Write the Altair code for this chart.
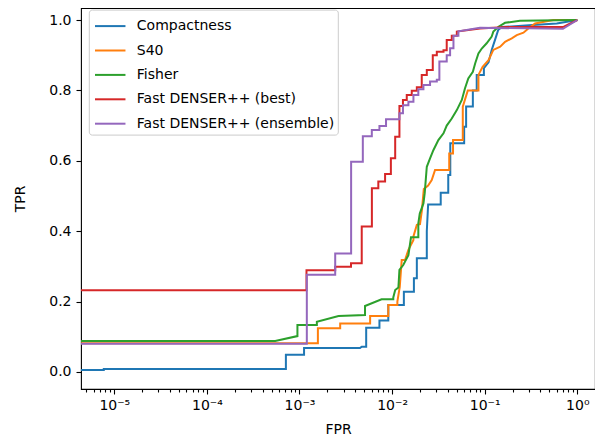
import altair as alt
import pandas as pd

series = ["Compactness", "S40", "Fisher", "Fast DENSER++ (best)", "Fast DENSER++ (ensemble)"]
colors = ["#1f77b4", "#ff7f0e", "#2ca02c", "#d62728", "#9467bd"]

XMIN, XMAX = 4.37e-6, 1.553
YMIN, YMAX = -0.0483, 1.0341

compactness = [
    (XMIN, 0.0057), (7.7e-6, 0.0057), (7.7e-6, 0.0085), (7.13e-4, 0.0085), (7.13e-4, 0.049),
    (1.12e-3, 0.049), (1.12e-3, 0.068), (4.5e-3, 0.068), (4.7e-3, 0.072), (5.25e-3, 0.072),
    (5.25e-3, 0.126), (7.3e-3, 0.126), (7.3e-3, 0.146), (9.1e-3, 0.146), (9.1e-3, 0.19),
    (1.34e-2, 0.19), (1.34e-2, 0.228), (1.72e-2, 0.228), (1.72e-2, 0.266), (1.85e-2, 0.266),
    (1.85e-2, 0.323), (2.37e-2, 0.323), (2.37e-2, 0.40), (2.45e-2, 0.476), (3.35e-2, 0.476),
    (3.35e-2, 0.509), (4.04e-2, 0.509), (4.04e-2, 0.56), (4.25e-2, 0.56), (4.25e-2, 0.65),
    (6.0e-2, 0.65), (6.0e-2, 0.697), (6.3e-2, 0.697), (6.3e-2, 0.754), (7.45e-2, 0.754),
    (7.45e-2, 0.80), (8.2e-2, 0.80), (8.2e-2, 0.844), (9.8e-2, 0.844), (9.8e-2, 0.863),
    (0.11, 0.88), (0.119, 0.915), (0.129, 0.943), (0.14, 0.972), (0.153, 0.98),
    (0.3, 0.985), (0.6, 0.99), (1.0, 1.0),
]

s40 = [
    (XMIN, 0.082), (1.58e-3, 0.082), (1.58e-3, 0.124), (2.75e-3, 0.124), (2.75e-3, 0.138),
    (5.79e-3, 0.138), (5.79e-3, 0.159), (9.1e-3, 0.159), (9.1e-3, 0.19), (1.14e-2, 0.19),
    (1.14e-2, 0.2), (1.21e-2, 0.242), (1.27e-2, 0.318), (1.38e-2, 0.318), (1.5e-2, 0.347),
    (1.7e-2, 0.375), (1.7e-2, 0.385), (1.85e-2, 0.418), (2.0e-2, 0.42), (2.1e-2, 0.46),
    (2.2e-2, 0.52), (2.45e-2, 0.53), (2.68e-2, 0.545), (2.91e-2, 0.574), (4.14e-2, 0.574),
    (4.14e-2, 0.621), (4.55e-2, 0.621), (4.55e-2, 0.659), (5.8e-2, 0.659), (5.8e-2, 0.754),
    (6.57e-2, 0.80), (8.56e-2, 0.80), (8.56e-2, 0.844), (9.5e-2, 0.867), (0.11, 0.886),
    (0.124, 0.915), (0.147, 0.924), (0.166, 0.938), (0.196, 0.948), (0.222, 0.957),
    (0.262, 0.964), (0.296, 0.976), (0.35, 0.99), (0.55, 1.0), (1.0, 1.0),
]

fisher = [
    (XMIN, 0.088), (5.47e-4, 0.088), (9.5e-4, 0.102), (9.5e-4, 0.1335), (1.54e-3, 0.1335),
    (1.54e-3, 0.143), (2.64e-3, 0.159), (5.1e-3, 0.162), (5.1e-3, 0.1875), (7.7e-3, 0.2064),
    (1.03e-2, 0.2064), (1.03e-2, 0.212), (1.08e-2, 0.233), (1.17e-2, 0.24), (1.2e-2, 0.29),
    (1.32e-2, 0.304), (1.5e-2, 0.332), (1.6e-2, 0.3826), (1.92e-2, 0.3826), (1.92e-2, 0.4224),
    (1.99e-2, 0.45), (2.18e-2, 0.479), (2.25e-2, 0.508), (2.37e-2, 0.583), (2.57e-2, 0.607),
    (2.79e-2, 0.63), (3.16e-2, 0.659), (3.59e-2, 0.678), (3.89e-2, 0.70), (4.41e-2, 0.72),
    (5.0e-2, 0.744), (5.66e-2, 0.773), (6.13e-2, 0.806), (6.65e-2, 0.834), (7.45e-2, 0.853),
    (7.9e-2, 0.877), (8.56e-2, 0.905), (9.3e-2, 0.919), (0.105, 0.934), (0.119, 0.953),
    (0.124, 0.967), (0.141, 0.981), (0.166, 0.992), (0.24, 0.998), (1.0, 1.0),
]

fd_best = [
    (XMIN, 0.232), (1.19e-3, 0.232), (1.19e-3, 0.289), (2.43e-3, 0.289), (2.43e-3, 0.299),
    (3.6e-3, 0.299), (3.6e-3, 0.309), (4.7e-3, 0.309), (4.7e-3, 0.413), (6.05e-3, 0.413),
    (6.05e-3, 0.522), (7.1e-3, 0.522), (7.1e-3, 0.541), (8.4e-3, 0.541), (8.4e-3, 0.5625),
    (9.7e-3, 0.5625), (9.7e-3, 0.607), (1.08e-2, 0.607), (1.08e-2, 0.668), (1.2e-2, 0.668),
    (1.2e-2, 0.756), (1.31e-2, 0.756), (1.31e-2, 0.773), (1.44e-2, 0.773), (1.44e-2, 0.787),
    (1.63e-2, 0.787), (1.63e-2, 0.799), (1.85e-2, 0.799), (1.85e-2, 0.809), (2.09e-2, 0.809),
    (2.09e-2, 0.844), (2.37e-2, 0.844), (2.37e-2, 0.858), (2.75e-2, 0.858), (2.75e-2, 0.90),
    (3.04e-2, 0.90), (3.04e-2, 0.91), (3.59e-2, 0.91), (3.59e-2, 0.914), (3.89e-2, 0.914),
    (3.89e-2, 0.943), (4.41e-2, 0.943), (4.41e-2, 0.955), (5.0e-2, 0.955), (5.0e-2, 0.967),
    (0.089, 0.976), (0.173, 0.98), (0.7, 0.98), (1.0, 1.0),
]

fd_ensemble = [
    (XMIN, 0.08), (1.2e-3, 0.08), (1.2e-3, 0.276), (2.43e-3, 0.276), (2.43e-3, 0.337),
    (3.61e-3, 0.337), (3.61e-3, 0.597), (4.83e-3, 0.597), (4.83e-3, 0.67), (6.04e-3, 0.67),
    (6.04e-3, 0.6875), (7.3e-3, 0.6875), (7.3e-3, 0.699), (8.6e-3, 0.699), (8.6e-3, 0.718),
    (1.2e-2, 0.718), (1.2e-2, 0.735), (1.31e-2, 0.735), (1.31e-2, 0.758), (1.5e-2, 0.758),
    (1.5e-2, 0.768), (1.7e-2, 0.768), (1.7e-2, 0.787), (1.92e-2, 0.787), (1.92e-2, 0.803),
    (2.18e-2, 0.803), (2.18e-2, 0.815), (2.57e-2, 0.815), (2.57e-2, 0.825), (3.04e-2, 0.825),
    (3.04e-2, 0.83), (3.24e-2, 0.83), (3.24e-2, 0.882), (3.89e-2, 0.882), (3.89e-2, 0.90),
    (4.23e-2, 0.90), (4.23e-2, 0.92), (4.6e-2, 0.92), (4.6e-2, 0.955), (5.2e-2, 0.955),
    (5.2e-2, 0.968), (0.089, 0.978), (0.7, 0.975), (1.0, 1.0),
]

curves = [compactness, s40, fisher, fd_best, fd_ensemble]

major_ticks = [1e-5, 1e-4, 1e-3, 1e-2, 1e-1, 1.0]
sup = {1e-5: "10⁻⁵", 1e-4: "10⁻⁴", 1e-3: "10⁻³", 1e-2: "10⁻²", 1e-1: "10⁻¹", 1.0: "10⁰"}
minor_mult = [2, 3, 4, 5, 6, 7, 8, 9]
minor_ticks = [m * 10.0 ** e for e in range(-6, 1) for m in minor_mult if XMIN <= m * 10.0 ** e <= XMAX]
all_ticks = sorted(major_ticks + minor_ticks)

rows = []
for name, pts in zip(series, curves):
    for i, (x, y) in enumerate(pts):
        rows.append({"series": name, "fpr": x, "tpr": y, "i": i})
df = pd.DataFrame(rows)

label_expr = ""
for v in major_ticks:
    label_expr += f"abs(datum.value - {v!r}) < {v * 1e-6!r} ? '{sup[v]}' : "
label_expr += "''"
major_test = " || ".join(f"abs(datum.value - {v!r}) < {v * 1e-6!r}" for v in major_ticks)

FONT = "DejaVu Sans"

chart = alt.Chart(df).mark_line(strokeWidth=2, clip=True).encode(
    x=alt.X("fpr:Q",
            scale=alt.Scale(type="log", domain=[XMIN, XMAX], nice=False),
            axis=alt.Axis(title="FPR", values=all_ticks, labelExpr=label_expr,
                          tickSize={"condition": {"test": major_test, "value": 5}, "value": 3},
                          labelPadding=4, titlePadding=10, grid=False, domain=False)),
    y=alt.Y("tpr:Q",
            scale=alt.Scale(domain=[YMIN, YMAX], nice=False, zero=False),
            axis=alt.Axis(title="TPR", values=[0, 0.2, 0.4, 0.6, 0.8, 1.0], format=".1f",
                          tickSize=5, labelPadding=5, titlePadding=21, grid=False, domain=False)),
    color=alt.Color("series:N", scale=alt.Scale(domain=series, range=colors),
                    legend=alt.Legend(title=None, orient="none", legendX=7.8, legendY=1.6,
                                      symbolType="M-0.84,0L1.64,0", symbolSize=605,
                                      symbolStrokeWidth=2, labelOffset=18, rowPadding=3.4,
                                      padding=3, fillColor="white", strokeColor="#cccccc",
                                      cornerRadius=3, labelFontSize=14, labelFont=FONT,
                                      labelColor="black", labelLimit=400)),
    order=alt.Order("i:Q"),
).properties(
    width=514, height=381,
    autosize=alt.AutoSizeParams(type="none"),
    padding={"left": 73, "top": 0, "right": 0, "bottom": 51},
).configure_view(
    stroke="black", strokeWidth=1.1
).configure_axis(
    labelFont=FONT, titleFont=FONT, labelFontSize=14, titleFontSize=14,
    titleFontWeight="normal", labelColor="black", titleColor="black",
    tickColor="black", tickWidth=1.1,
)

chart.save("out.html", embed_options={"renderer": "svg", "actions": False})
